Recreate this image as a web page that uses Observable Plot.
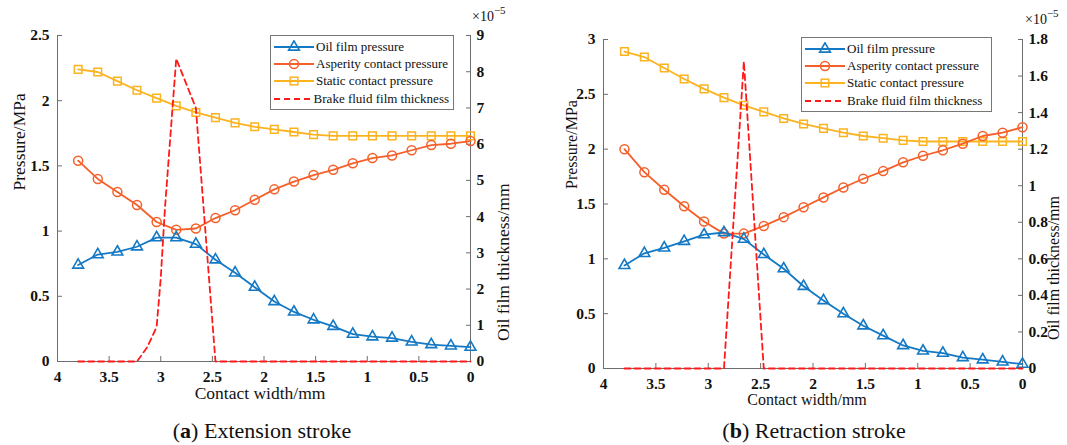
<!DOCTYPE html>
<html><head><meta charset="utf-8">
<script src="https://cdn.jsdelivr.net/npm/d3@7"></script>
<script src="https://cdn.jsdelivr.net/npm/@observablehq/plot@0.6"></script>
<style>
body{margin:0;background:#fff;width:1067px;height:445px;position:relative;overflow:hidden;font-family:"Liberation Serif","Times New Roman",serif;color:#111}
.panel{position:absolute;top:0}
.panel svg, .panel svg text{font-family:"Liberation Serif","Times New Roman",serif !important}
.panel svg g[aria-label$="tick label"] text{font-weight:bold;font-size:15.5px}
.cap{position:absolute;top:418px;font-size:22px;white-space:nowrap;transform:translateX(-50%)}
.exp{position:absolute;font-size:14px;white-space:nowrap;line-height:14px}
.exp sup{font-size:11px;position:relative;top:-1px;line-height:0}
.legend{position:absolute;border:1px solid #777;background:#fff;font-size:13px;padding:2px 4px 2px 3px}
.legend .row{display:flex;align-items:center;height:17.3px;white-space:nowrap}
.legend svg{margin-right:2px}
</style></head>
<body>
<script>
// ---- data ----
const contactWidth = [3.8,3.61,3.42,3.23,3.04,2.85,2.66,2.47,2.28,2.09,1.9,1.71,1.52,1.33,1.14,0.95,0.76,0.57,0.38,0.19,0];
const oilA = [0.74,0.82,0.84,0.88,0.95,0.95,0.90,0.78,0.68,0.57,0.46,0.38,0.32,0.27,0.21,0.19,0.18,0.15,0.13,0.12,0.11];
const asperityA = [1.54,1.40,1.30,1.20,1.07,1.01,1.02,1.10,1.16,1.24,1.32,1.38,1.43,1.47,1.52,1.56,1.58,1.62,1.66,1.67,1.69];
const staticA = [2.24,2.22,2.15,2.08,2.02,1.96,1.91,1.87,1.83,1.80,1.78,1.76,1.74,1.73,1.73,1.73,1.73,1.73,1.73,1.73,1.73];
const oilB = [0.94,1.05,1.10,1.16,1.22,1.24,1.18,1.04,0.91,0.75,0.62,0.50,0.39,0.30,0.21,0.16,0.14,0.10,0.08,0.06,0.04];
const asperityB = [2.00,1.79,1.63,1.48,1.34,1.23,1.23,1.30,1.38,1.47,1.56,1.65,1.73,1.80,1.88,1.94,1.99,2.05,2.12,2.15,2.20];
const staticB = [2.89,2.84,2.74,2.64,2.55,2.47,2.40,2.34,2.28,2.23,2.19,2.15,2.12,2.10,2.08,2.07,2.07,2.07,2.07,2.07,2.07];
// film thickness (units of 1e-5 mm)
const thickWidthA = [3.8,3.23,3.13,3.04,3.0,2.96,2.91,2.85,2.66,2.47,0];
const thicknessA = [0,0,0.4,0.95,2.3,4.2,6.1,8.36,7.0,0,0];
const thickWidthB = [3.8,2.85,2.66,2.47,0];
const thicknessB = [0,0,1.68,0,0];
// ticks
const xTicks = [4,3.5,3,2.5,2,1.5,1,0.5,0];
const yTicksA = [0,0.5,1,1.5,2,2.5];
const yTicksB = [0,0.5,1,1.5,2,2.5,3];
const rTicksA = [0,1,2,3,4,5,6,7,8,9];
const rTicksB = [0,0.2,0.4,0.6,0.8,1,1.2,1.4,1.6,1.8];
const seriesNames = ["Oil film pressure","Asperity contact pressure","Static contact pressure","Brake fluid film thickness"];
const colors = {oil:"#1479c4", asp:"#f5602a", stat:"#fbb320", thick:"#ff1a1a"};

function panel(o){
  const k = o.yMax / o.rMax;
  const rows = contactWidth.map((w,i)=>({w, oil:o.oil[i], asp:o.asp[i], stat:o.stat[i]}));
  const thick = o.tw.map((w,i)=>({w, t:o.th[i]*k}));
  const axisColor = "#6e6e6e";
  return Plot.plot({
    width:o.width, height:415,
    marginLeft:o.ml, marginRight:o.mr, marginTop:o.mt, marginBottom:415-o.bottom,
    x:{domain:[4,0]}, y:{domain:[0,o.yMax]},
    style:"font-family:'Liberation Serif','Times New Roman',serif;font-size:15px;color:#111;background:#fff;",
    marks:[
      Plot.ruleX([4],{stroke:axisColor}),
      Plot.ruleX([0],{stroke:axisColor}),
      Plot.ruleY([0],{stroke:axisColor}),
      Plot.axisX(xTicks,{anchor:"bottom", tickSize:-5, tickPadding:14, tickFormat:d=>String(d), fontWeight:"bold", stroke:axisColor, label:null}),
      Plot.axisY(o.yTicks,{anchor:"left", tickSize:-5, tickPadding:13, tickFormat:d=>String(d), fontWeight:"bold", stroke:axisColor, label:null}),
      Plot.axisY(o.rTicks.map(t=>t*k),{anchor:"right", tickSize:-5, tickPadding:11, tickFormat:d=>String(Math.round(d/k*10)/10), fontWeight:"bold", stroke:axisColor, label:null}),
      Plot.line(rows,{x:"w", y:"stat", stroke:colors.stat, strokeWidth:1.8}),
      Plot.dot(rows,{x:"w", y:"stat", symbol:"square", r:4.3, stroke:colors.stat, strokeWidth:1.5, fill:"none"}),
      Plot.line(rows,{x:"w", y:"asp", stroke:colors.asp, strokeWidth:1.8}),
      Plot.dot(rows,{x:"w", y:"asp", symbol:"circle", r:4.5, stroke:colors.asp, strokeWidth:1.5, fill:"none"}),
      Plot.line(rows,{x:"w", y:"oil", stroke:colors.oil, strokeWidth:1.8}),
      Plot.dot(rows,{x:"w", y:"oil", symbol:"triangle", r:4, stroke:colors.oil, strokeWidth:1.6, fill:"none"}),
      Plot.line(thick,{x:"w", y:"t", stroke:colors.thick, strokeWidth:1.8, strokeDasharray:"6,4"}),
      Plot.text(["Pressure/MPa"],{frameAnchor:"left", rotate:-90, dx:o.lt[0], dy:o.lt[1], fontSize:o.tfs}),
      Plot.text(["Oil film thickness/mm"],{frameAnchor:"right", rotate:-90, dx:o.rt[0], dy:o.rt[1], fontSize:o.tfs}),
      Plot.text(["Contact width/mm"],{frameAnchor:"bottom", dx:o.xt[0], dy:o.xt[1], fontSize:o.tfs})
    ]
  });
}

function legend(left, top, width){
  const d = document.createElement("div");
  d.className = "legend";
  d.style.left = left+"px"; d.style.top = top+"px"; d.style.width = width+"px";
  const sw = [
    `<line x1="0" y1="7" x2="40" y2="7" stroke="${colors.oil}" stroke-width="1.8"/><path d="${d3.symbol(d3.symbolTriangle, 50)()}" transform="translate(20,7)" fill="none" stroke="${colors.oil}" stroke-width="1.6"/>`,
    `<line x1="0" y1="7" x2="40" y2="7" stroke="${colors.asp}" stroke-width="1.8"/><circle cx="20" cy="7" r="4.5" fill="none" stroke="${colors.asp}" stroke-width="1.5"/>`,
    `<line x1="0" y1="7" x2="40" y2="7" stroke="${colors.stat}" stroke-width="1.8"/><rect x="16.2" y="3.2" width="7.6" height="7.6" fill="none" stroke="${colors.stat}" stroke-width="1.5"/>`,
    `<line x1="0" y1="7" x2="40" y2="7" stroke="${colors.thick}" stroke-width="1.8" stroke-dasharray="6,4"/>`
  ];
  d.innerHTML = seriesNames.map((n,i)=>`<div class="row"><svg width="40" height="14">${sw[i]}</svg><span>${n}</span></div>`).join("");
  document.body.appendChild(d);
}

const pa = panel({width:533, ml:57, mr:63, mt:35, bottom:361, yMax:2.5, rMax:9, yTicks:yTicksA, rTicks:rTicksA,
  oil:oilA, asp:asperityA, stat:staticA, tw:thickWidthA, th:thicknessA,
  lt:[-38,-8], rt:[33,-15], xt:[-4,37], tfs:"17.5px"});
const pb = panel({width:534, ml:70, mr:45, mt:39, bottom:368, yMax:3, rMax:1.8, yTicks:yTicksB, rTicks:rTicksB,
  oil:oilB, asp:asperityB, stat:staticB, tw:thickWidthB, th:thicknessB,
  lt:[-32,-15], rt:[31,-8], xt:[-6,36], tfs:"16px"});
const wa = document.createElement("div"); wa.className="panel"; wa.style.left="0px"; wa.appendChild(pa); document.body.appendChild(wa);
const wb = document.createElement("div"); wb.className="panel"; wb.style.left="533px"; wb.appendChild(pb); document.body.appendChild(wb);

legend(270, 35, 175);
legend(801, 37, 182);

function addText(cls, left, top, html){
  const d = document.createElement("div"); d.className=cls; d.style.left=left+"px"; d.style.top=top+"px"; d.innerHTML=html; document.body.appendChild(d);
}
addText("exp", 472, 10, "×10<sup>−5</sup>");
addText("exp", 1025, 13, "×10<sup>−5</sup>");
addText("cap", 262, 418, "(<b>a</b>) Extension stroke");
addText("cap", 814, 418, "(<b>b</b>) Retraction stroke");
</script>
</body></html>
